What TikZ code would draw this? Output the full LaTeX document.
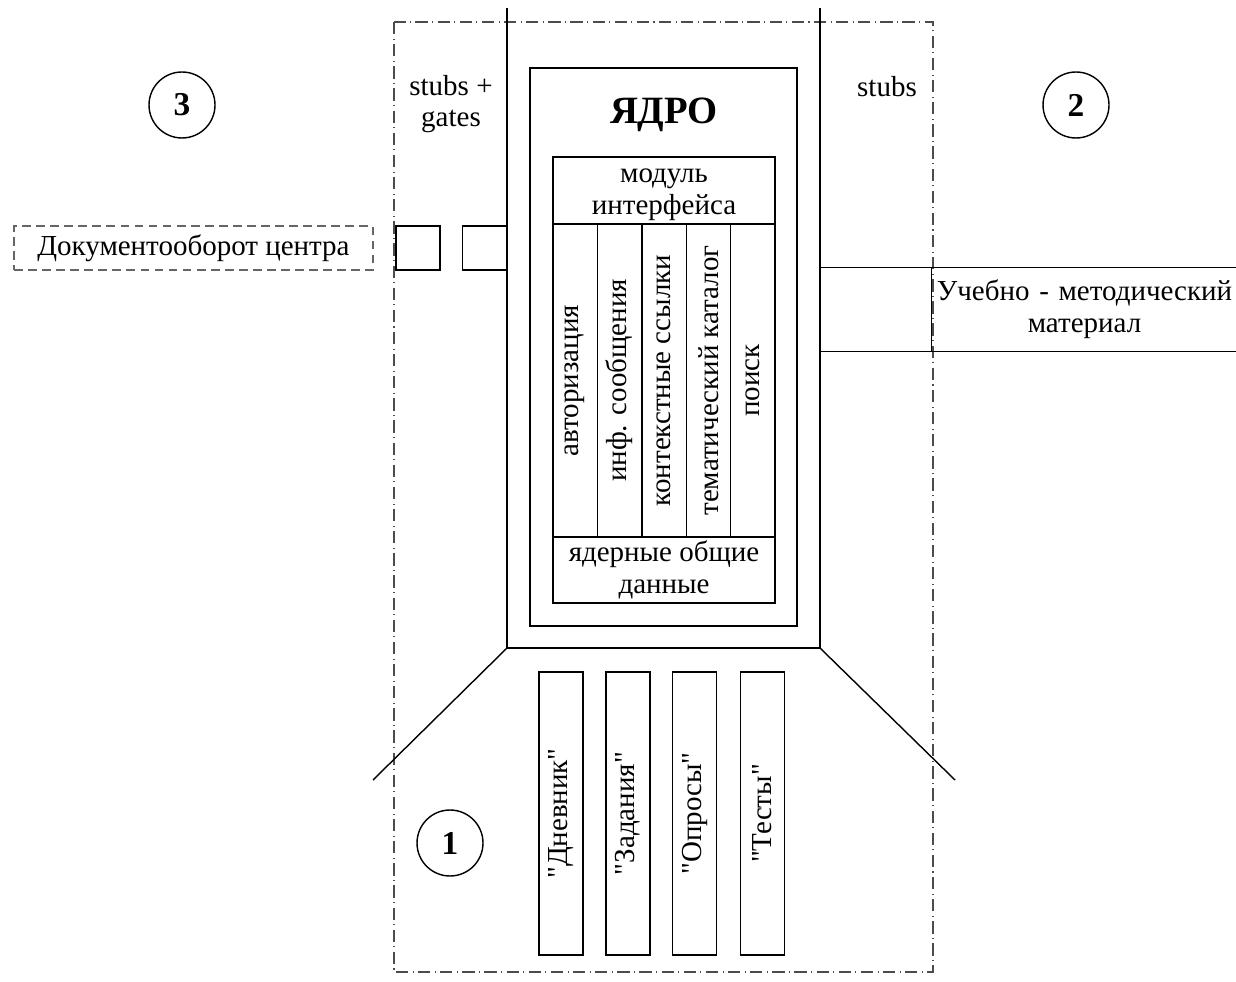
\documentclass[tikz,border=0pt]{standalone}
\usepackage{fontspec}
\setmainfont{Liberation Serif}
\usetikzlibrary{positioning}
\newcommand{\quoted}[1]{\textquotedbl#1\textquotedbl}

\begin{document}
\begin{tikzpicture}[
  x=0.02cm, y=-0.02cm,
  every node/.style={align=center, font=\fontsize{16.5}{18}\selectfont},
  box/.style={rectangle, draw, line width=0.8pt, inner sep=0pt},
  col/.style={box, rotate=90, minimum width=6.26cm, minimum height=0.888cm},
  tab/.style={box, rotate=90, minimum width=5.66cm, minimum height=0.88cm},
  gate/.style={box, minimum width=0.88cm, minimum height=0.88cm},
  num/.style={circle, draw, line width=0.8pt, minimum size=1.32cm, inner sep=0pt, font=\fontsize{19}{21}\selectfont\bfseries},
  frame/.style={line width=0.8pt, dash pattern=on 7pt off 2.5pt on 0.6pt off 2.5pt},
  wall/.style={line width=0.8pt}
]
  \useasboundingbox (0,0) rectangle (1236,982);

  \draw[frame, black!70] (394,22) rectangle (933,972);

  \coordinate (cbl) at (507,648);
  \coordinate (cbr) at (820,648);
  \coordinate (lfoot) at (373,780);
  \coordinate (rfoot) at (955,780);
  \draw[wall] (507,8) -- (cbl) -- (cbr) -- (820,8);
  \draw[wall] (cbl) -- (lfoot);
  \draw[wall] (cbr) -- (rfoot);

  \node (stubsL) at (451,104) {stubs +\\gates};
  \node (stubsR) at (887,87) {stubs};

  \node[num] (n3) at (182,105) {3};
  \node[num] (n2) at (1076,105) {2};
  \node[num] (n1) at (450,843) {1};

  \node[box, minimum width=5.34cm, minimum height=11.16cm] (core) at (663.5,347) {};
  \node[font=\fontsize{22}{24}\selectfont\bfseries] (title) at (664,115) {ЯДРО};
  \node[box, minimum width=4.44cm, minimum height=1.34cm] (iface) at (664,190.5) {};
  \node (ifaceText) at (664,195) {модуль\\интерфейса};
  \node[col] (auth) at (575.2,380.5) {авторизация};
  \node[col] (msg) at (619.6,380.5) {инф. сообщения};
  \node[col] (links) at (664,380.5) {контекстные ссылки};
  \node[col] (catalog) at (708.4,380.5) {тематический каталог};
  \node[col] (search) at (752.8,380.5) {поиск};
  \node[box, minimum width=4.44cm, minimum height=1.32cm] (shared) at (664,570) {ядерные общие\\данные};

  \node[tab] (diary) at (561,813.5) {\quoted{Дневник}};
  \node[tab] (tasks) at (628,813.5) {\quoted{Задания}};
  \node[tab] (polls) at (694.5,813.5) {\quoted{Опросы}};
  \node[tab] (tests) at (762.5,813.5) {\quoted{Тесты}};

  \node[gate] (gate1) at (418,248) {};
  \node[gate] (gate2) at (484.5,248) {};
  \node[box, draw=black!60, dash pattern=on 5pt off 3pt, minimum width=7.18cm, minimum height=0.88cm] (docflow) at (193.5,248) {Документооборот центра};

  \node[inner sep=0pt, text width=6.1cm, minimum height=1.66cm] (material) at (1084.5,309.5) {Учебно - методический\\материал};
  \draw[wall] (material.north east) -- (material.north west) -- (material.south west) -- (material.south east);
  \draw[wall] (material.north west) -- (material.north west -| cbr);
  \draw[wall] (material.south west) -- (material.south west -| cbr);
\end{tikzpicture}
\end{document}
